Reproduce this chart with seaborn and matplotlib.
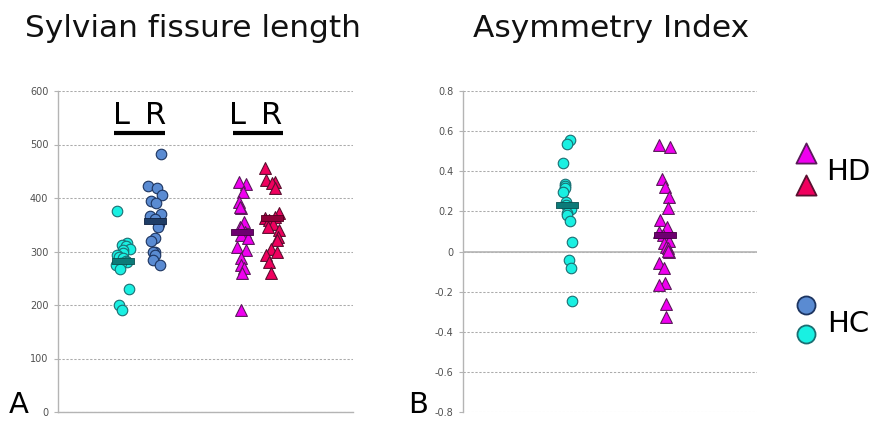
import numpy as np
import pandas as pd
import matplotlib
matplotlib.use("Agg")
import matplotlib.pyplot as plt
import seaborn as sns

# ---------------- data ----------------
hc_left = [376, 315, 312, 310, 305, 302, 298, 293, 290, 287, 283, 280, 278, 275, 268, 230, 200, 191]
hc_right = [483, 422, 418, 405, 395, 390, 370, 366, 360, 352, 345, 326, 320, 300, 300, 293, 284, 274]
hd_left = [427, 430, 412, 393, 381, 384, 356, 346, 343, 337, 331, 325, 309, 303, 287, 275, 269, 259, 191]
hd_right = [457, 433, 430, 428, 418, 372, 365, 362, 358, 352, 345, 340, 328, 322, 305, 300, 293, 281, 259]
hc_ai = [0.555, 0.535, 0.439, 0.336, 0.326, 0.319, 0.298, 0.248, 0.231, 0.215, 0.21,
         0.190, 0.182, 0.153, 0.049, -0.042, -0.084, -0.246]
hd_ai = [0.530, 0.522, 0.361, 0.323, 0.270, 0.218, 0.157, 0.124, 0.099, 0.082, 0.052,
         0.041, 0.024, 0.016, 0.0, 0.004, -0.056, -0.084, -0.158, -0.167, -0.261, -0.324]
hc_length_means = [283, 357]
hd_length_means = [336, 363]
ai_means = [0.23, 0.08]
side_labels = ["L", "R"]
group_labels = ["HD", "HC"]
length_ticks = [0, 100, 200, 300, 400, 500, 600]
ai_ticks = [-0.8, -0.6, -0.4, -0.2, 0, 0.2, 0.4, 0.6, 0.8]

# ---------------- style ----------------
sns.set_theme(style="white")
plt.rcParams["font.family"] = ["DejaVu Sans"]
np.random.seed(7)

W, H = 873, 421
fig = plt.figure(figsize=(W / 100, H / 100), dpi=100)

def fx(px):
    return px / W

def fy(py):
    return 1 - py / H

axA = fig.add_axes([fx(58), fy(412), (353 - 58) / W, (412 - 91) / H])
axB = fig.add_axes([fx(463), fy(412), (757 - 463) / W, (412 - 91) / H])

C_CYAN, E_CYAN, M_CYAN = "#19F0E2", "#1B6E72", "#0C7A78"
C_BLUE, E_BLUE, M_BLUE = "#5A8BD2", "#1C3460", "#1F3D66"
C_MAG, E_MAG, M_MAG = "#F000F0", "#5A1A5A", "#6E0070"
C_CRIM, E_CRIM, M_CRIM = "#F0005E", "#5A1030", "#8E0038"

bar_marker = [(-1, -0.25), (1, -0.25), (1, 0.25), (-1, 0.25), (-1, -0.25)]

def strip(ax, values, pos, marker, fill, edge, size, jit):
    df = pd.DataFrame({"pos": [pos] * len(values), "value": values})
    sns.stripplot(data=df, x="pos", y="value", native_scale=True, orient="v",
                  jitter=jit, marker=marker, color=fill, edgecolor=edge,
                  linewidth=0.8, size=size, ax=ax, zorder=3)

def meanbar(ax, pos, mean, fill, edge):
    sns.scatterplot(x=[pos], y=[mean], marker=bar_marker, s=16.5 ** 2, color=fill,
                    edgecolor=edge, linewidth=0.6, ax=ax, zorder=5, legend=False)

# Panel A
posA = [2.20, 3.29, 6.24, 7.25]
strip(axA, hc_left, posA[0], "o", C_CYAN, E_CYAN, 7.6, 0.25)
strip(axA, hc_right, posA[1], "o", C_BLUE, E_BLUE, 7.6, 0.25)
strip(axA, hd_left, posA[2], "^", C_MAG, E_MAG, 8.5, 0.25)
strip(axA, hd_right, posA[3], "^", C_CRIM, E_CRIM, 8.5, 0.25)
meanbar(axA, posA[0], hc_length_means[0], M_CYAN, "#0A5050")
meanbar(axA, posA[1], hc_length_means[1], M_BLUE, "#0F2040")
meanbar(axA, posA[2], hd_length_means[0], M_MAG, "#400040")
meanbar(axA, posA[3], hd_length_means[1], M_CRIM, "#500020")

# Panel B
posB = [3.54, 6.87]
strip(axB, hc_ai, posB[0], "o", C_CYAN, E_CYAN, 7.6, 0.2)
strip(axB, hd_ai, posB[1], "^", C_MAG, E_MAG, 8.5, 0.22)
meanbar(axB, posB[0], ai_means[0], M_CYAN, "#0A5050")
meanbar(axB, posB[1], ai_means[1], M_MAG, "#400040")

for ax, ticks in [(axA, length_ticks), (axB, ai_ticks)]:
    ax.set_xlim(0, 10)
    ax.set_ylim(ticks[0], ticks[-1])
    ax.set_yticks(ticks)
    ax.set_yticklabels(["{:g}".format(t) for t in ticks])
    ax.set_xticks([])
    ax.set_xlabel("")
    ax.set_ylabel("")
    ax.yaxis.grid(True, linestyle=(0, (2.2, 1.6)), color="#ABABAB", linewidth=0.75)
    ax.set_axisbelow(True)
    for s in ["top", "right"]:
        ax.spines[s].set_visible(False)
    ax.spines["left"].set_color("#B4B4B4")
    ax.spines["left"].set_linewidth(1.0)
    ax.tick_params(axis="y", labelsize=7, labelcolor="#505050", length=3,
                   color="#B4B4B4", width=0.8, left=True, pad=4)
    ax.set_facecolor("none")

axA.spines["bottom"].set_color("#B4B4B4")
axA.spines["bottom"].set_linewidth(1.0)
axB.spines["bottom"].set_visible(False)
axB.axhline(0, color="#B4B4B4", linewidth=1.2, zorder=1)

# L / R labels with underline
for (xl, xr, x0, x1) in [(2.14, 3.31, 1.90, 3.63), (6.07, 7.25, 5.93, 7.63)]:
    axA.text(xl, 555, side_labels[0], ha="center", va="center", fontsize=22, color="black")
    axA.text(xr, 555, side_labels[1], ha="center", va="center", fontsize=22, color="black")
    axA.plot([x0, x1], [521, 521], color="black", linewidth=3, solid_capstyle="butt")

# Titles and panel letters
fig.text(fx(192.5), fy(37), "Sylvian fissure length", ha="center", va="baseline",
         fontsize=22.5, color="#111111")
fig.text(fx(611), fy(37), "Asymmetry Index", ha="center", va="baseline",
         fontsize=22.5, color="#111111")
fig.text(fx(9), fy(413), "A", ha="left", va="baseline", fontsize=21, color="black")
fig.text(fx(408), fy(413), "B", ha="left", va="baseline", fontsize=21, color="black")

# Legend
lax = fig.add_axes([0, 0, 1, 1], facecolor="none")
lax.set_xlim(0, W)
lax.set_ylim(H, 0)
lax.axis("off")
lax.scatter([806], [153], marker="^", s=14.5 ** 2, color=C_MAG, edgecolor=E_MAG, linewidth=1.3)
lax.scatter([806], [185], marker="^", s=14.5 ** 2, color=C_CRIM, edgecolor=E_CRIM, linewidth=1.3)
lax.scatter([806], [305], marker="o", s=13 ** 2, color=C_BLUE, edgecolor=E_BLUE, linewidth=1.3)
lax.scatter([806], [334], marker="o", s=13 ** 2, color=C_CYAN, edgecolor=E_CYAN, linewidth=1.3)
lax.text(826, 180, group_labels[0], ha="left", va="baseline", fontsize=21, color="black")
lax.text(827, 332, group_labels[1], ha="left", va="baseline", fontsize=21, color="black")

fig.savefig("out.png", dpi=100)
